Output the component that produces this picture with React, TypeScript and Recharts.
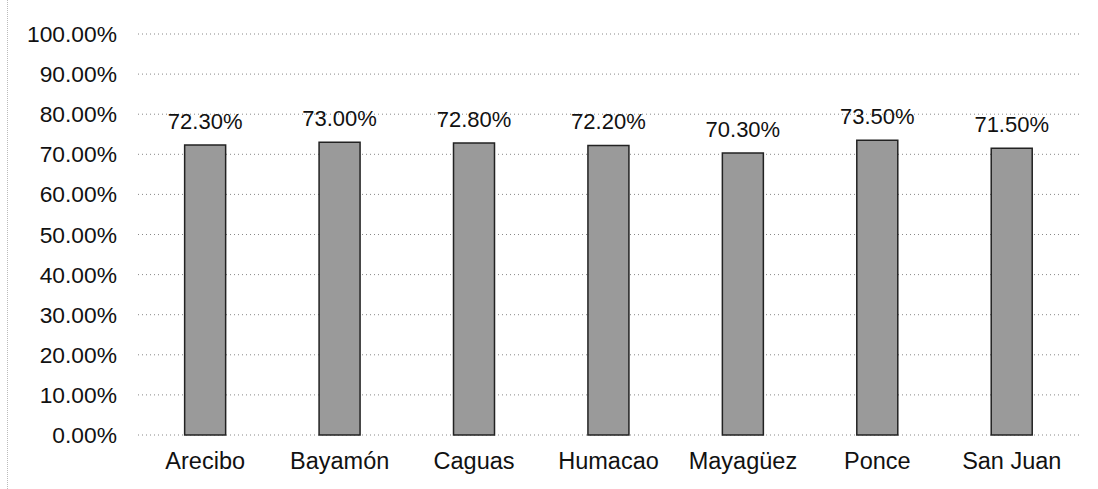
import React from 'react';
import { BarChart, Bar, XAxis, YAxis, CartesianGrid, LabelList } from 'recharts';

const categories = ['Arecibo', 'Bayamón', 'Caguas', 'Humacao', 'Mayagüez', 'Ponce', 'San Juan'];
const values = [72.3, 73.0, 72.8, 72.2, 70.3, 73.5, 71.5];
const yTicks = [0, 10, 20, 30, 40, 50, 60, 70, 80, 90, 100];

const data = categories.map((c, i) => ({ name: c, value: values[i] }));

const fmt = (v: number) => `${v.toFixed(2)}%`;
const font = '"Liberation Sans", Arial, sans-serif';

export default function App() {
  return (
    <div style={{ position: 'absolute', left: 0, top: 0, width: 1098, height: 489, background: '#fff' }}>
      <div style={{ position: 'absolute', left: 7, top: 0, height: 489, borderLeft: '1px dotted #bbb' }} />
      <BarChart
        width={1098}
        height={489}
        data={data}
        margin={{ top: 34, right: 19, bottom: 24, left: 0 }}
        barCategoryGap="34.7%"
      >
        <CartesianGrid vertical={false} stroke="#888" strokeDasharray="1 3" />
        <XAxis
          dataKey="name"
          height={30}
          axisLine={false}
          tickLine={false}
          tickSize={0}
          tickMargin={17}
          interval={0}
          tick={{ fill: '#111', fontSize: 23.5, fontFamily: font }}
        />
        <YAxis
          width={138}
          domain={[0, 100]}
          ticks={yTicks}
          axisLine={false}
          tickLine={false}
          tickSize={0}
          tickMargin={21}
          tickFormatter={fmt}
          tick={{ fill: '#111', fontSize: 22.8, fontFamily: font }}
        />
        <Bar dataKey="value" fill="#9a9a9a" stroke="#222" strokeWidth={1.5} isAnimationActive={false}>
          <LabelList
            dataKey="value"
            position="top"
            offset={16}
            formatter={(v: any) => fmt(Number(v))}
            style={{ fill: '#111', fontSize: 22, fontFamily: font }}
          />
        </Bar>
      </BarChart>
    </div>
  );
}
